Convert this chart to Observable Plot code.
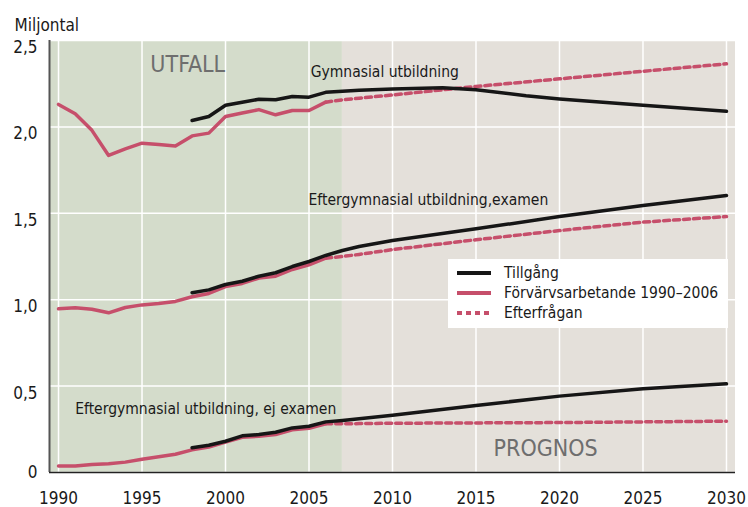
<!DOCTYPE html>
<html>
<head>
<meta charset="utf-8">
<script src="https://cdn.jsdelivr.net/npm/d3@7"></script>
<script src="https://cdn.jsdelivr.net/npm/@observablehq/plot@0.6"></script>
<style>
  html, body { margin: 0; padding: 0; background: #fff; }
  #wrap { position: relative; width: 748px; height: 507px; font-family: "Liberation Sans Narrow", "DejaVu Sans Condensed", "Arial Narrow", sans-serif; }
  #legend { position: absolute; left: 448px; top: 259px; width: 280px; height: 69px; background: #fff; font-size: 15.5px; color: #1a1a1a; }
  #legend .row { position: absolute; left: 9px; height: 20px; display: flex; align-items: center; white-space: nowrap; }
  #legend .row span { margin-left: 13px; }
</style>
</head>
<body>
<div id="wrap"></div>
<script>
// ---- data (values in millions) ----
const actualYears = [1990,1991,1992,1993,1994,1995,1996,1997,1998,1999,2000,2001,2002,2003,2004,2005,2006];
const gymEmployed  = [2.13,2.076,1.98,1.835,1.873,1.906,1.898,1.89,1.948,1.964,2.06,2.08,2.10,2.07,2.095,2.095,2.143];
const examEmployed = [0.947,0.953,0.945,0.924,0.955,0.970,0.978,0.990,1.017,1.036,1.076,1.094,1.125,1.136,1.175,1.202,1.240];
const ejexEmployed = [0.037,0.037,0.046,0.050,0.060,0.077,0.091,0.106,0.131,0.147,0.176,0.204,0.210,0.220,0.247,0.256,0.282];

const gymSupplyYears = [1998,1999,2000,2001,2002,2003,2004,2005,2006,2007,2008,2010,2013,2015,2018,2020,2025,2030];
const gymSupply      = [2.037,2.06,2.125,2.143,2.16,2.157,2.176,2.172,2.20,2.207,2.212,2.22,2.226,2.215,2.18,2.162,2.125,2.09];
const supplyYears = [1998,1999,2000,2001,2002,2003,2004,2005,2006,2007,2008,2010,2015,2020,2025,2030];
const examSupply  = [1.040,1.057,1.088,1.107,1.136,1.156,1.192,1.221,1.256,1.285,1.308,1.343,1.410,1.481,1.545,1.603];
const ejexSupply  = [0.143,0.158,0.181,0.212,0.220,0.233,0.258,0.268,0.293,0.301,0.311,0.331,0.388,0.442,0.484,0.513];

const demandYears = [2006,2007,2008,2010,2015,2020,2025,2030];
const gymDemand  = [2.143,2.157,2.166,2.185,2.234,2.278,2.322,2.365];
const examDemand = [1.240,1.250,1.262,1.290,1.347,1.400,1.449,1.481];
const ejexDemand = [0.282,0.282,0.283,0.285,0.287,0.289,0.293,0.297];

const xTicks = [1990,1995,2000,2005,2010,2015,2020,2025,2030];
const yTicks = [0,0.5,1.0,1.5,2.0,2.5];
const periods = [{from: 1989.46, to: 2007, name: "UTFALL"}, {from: 2007, to: 2030.54, name: "PROGNOS"}];
const labels = [
  {x: 1995.5, y: 2.36, text: "UTFALL", big: true},
  {x: 2016.05, y: 0.14, text: "PROGNOS", big: true},
  {x: 2005.1, y: 2.32, text: "Gymnasial utbildning"},
  {x: 2004.97, y: 1.574, text: "Eftergymnasial utbildning,examen"},
  {x: 1991.0, y: 0.37, text: "Eftergymnasial utbildning, ej examen"}
];

// ---- build tables ----
const rows = (years, vals, group) => years.map((y, i) => ({year: y, value: vals[i], group}));
const employed = [...rows(actualYears, gymEmployed, "gym"), ...rows(actualYears, examEmployed, "exam"), ...rows(actualYears, ejexEmployed, "ejex")];
const supply = [...rows(gymSupplyYears, gymSupply, "gym"), ...rows(supplyYears, examSupply, "exam"), ...rows(supplyYears, ejexSupply, "ejex")];
const demand = [...rows(demandYears, gymDemand, "gym"), ...rows(demandYears, examDemand, "exam"), ...rows(demandYears, ejexDemand, "ejex")];

const BLACK = "#161616", PINK = "#c64f6b";
const FONT = '"Liberation Sans Narrow", "DejaVu Sans Condensed", "Arial Narrow", sans-serif';
const fmt = d => d === 0 ? "0" : d.toFixed(1).replace(".", ",");

const chart = Plot.plot({
  width: 748, height: 507,
  marginTop: 40, marginBottom: 35, marginLeft: 49, marginRight: 13,
  style: {fontFamily: FONT, background: "#fff", overflow: "visible"},
  x: {domain: [1989.46, 2030.54]},
  y: {domain: [0, 2.5]},
  marks: [
    Plot.rectY(periods, {x1: "from", x2: "to", y1: 0, y2: 2.5, fill: d => d.name === "UTFALL" ? "#d4dccb" : "#e4e0da"}),
    Plot.gridX({ticks: xTicks, stroke: "#fff", strokeOpacity: 1, strokeWidth: 1.5}),
    Plot.gridY({ticks: yTicks, stroke: "#fff", strokeOpacity: 1, strokeWidth: 1.5}),
    Plot.ruleX([1989.46], {stroke: "#555", strokeWidth: 2}),
    Plot.ruleY([0], {stroke: "#222", strokeWidth: 1.5}),
    Plot.axisX({ticks: xTicks, tickSize: 0, tickPadding: 19, tickFormat: d => String(d), label: null, fontSize: 17, fill: "#1a1a1a"}),
    Plot.axisY({ticks: yTicks.filter(d => d > 0), tickSize: 0, tickPadding: 12, tickFormat: fmt, label: null, fontSize: 17, dy: 7, fill: "#1a1a1a"}),
    Plot.axisY({ticks: [0], tickSize: 0, tickPadding: 12, tickFormat: fmt, label: null, fontSize: 17, dy: 0, fill: "#1a1a1a"}),
    Plot.lineY(demand, {x: "year", y: "value", z: "group", stroke: PINK, strokeWidth: 3.5, strokeDasharray: "6,4"}),
    Plot.lineY(employed, {x: "year", y: "value", z: "group", stroke: PINK, strokeWidth: 3.5}),
    Plot.lineY(supply, {x: "year", y: "value", z: "group", stroke: BLACK, strokeWidth: 3.5}),
    Plot.text(labels.filter(d => !d.big), {x: "x", y: "y", text: "text", textAnchor: "start", fontSize: 15.5, fill: "#1a1a1a"}),
    Plot.text(labels.filter(d => d.big), {x: "x", y: "y", text: "text", textAnchor: "start", fontSize: 23, fill: "#6e6e6e"}),
    Plot.text(["Miljontal"], {frameAnchor: "top-left", dx: -35, dy: -22, textAnchor: "start", fontSize: 17, fill: "#1a1a1a"})
  ]
});

const wrap = document.getElementById("wrap");
wrap.appendChild(chart);

// ---- legend ----
const legendItems = [
  {label: "Tillgång", color: BLACK, dash: null},
  {label: "Förvärvsarbetande 1990–2006", color: PINK, dash: null},
  {label: "Efterfrågan", color: PINK, dash: "5,4"}
];
const legend = document.createElement("div");
legend.id = "legend";
legendItems.forEach((d, i) => {
  const row = document.createElement("div");
  row.className = "row";
  row.style.top = (4 + i * 20) + "px";
  row.innerHTML = `<svg width="34" height="6"><line x1="0" x2="34" y1="3" y2="3" stroke="${d.color}" stroke-width="4" ${d.dash ? `stroke-dasharray="${d.dash}"` : ""}/></svg><span>${d.label}</span>`;
  legend.appendChild(row);
});
wrap.appendChild(legend);
</script>
</body>
</html>
